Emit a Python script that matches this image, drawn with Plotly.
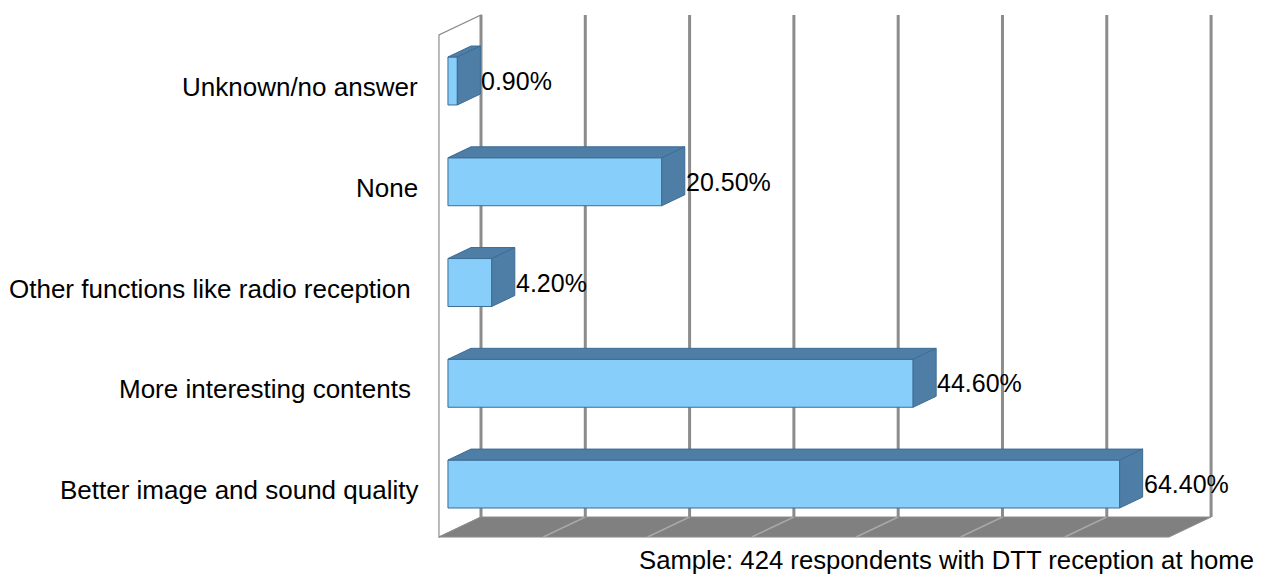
import plotly.graph_objects as go

# ---- data ---------------------------------------------------------------
categories = [
    "Better image and sound quality",
    "More interesting contents\u00a0",
    "Other functions like radio reception\u00a0",
    "None",
    "Unknown/no answer",
]
values = [64.4, 44.6, 4.2, 20.5, 0.9]
value_labels = ["64.40%", "44.60%", "4.20%", "20.50%", "0.90%"]
grid_ticks = [0, 10, 20, 30, 40, 50, 60, 70]
caption = "Sample: 424 respondents with DTT reception at home"

# ---- pseudo-3D projection settings --------------------------------------
DX, DY = -4.03, -0.1985        # shift of a point moved from the back wall to the front edge
D_FRONT, D_BACK = 0.786, 0.238  # depth of a bar's front and back faces
HALF = 0.238                    # half height of a bar
FLOOR_Y = -0.3275               # floor level on the back wall
WALL_TOP = 4.655                # top of the back wall

FRONT = "#87CEFA"
SIDE = "#4E7EA6"
EDGE = "#3D6C94"
FAMILY = "Liberation Sans, Arial, sans-serif"
FONT = dict(family=FAMILY, size=25, color="#000000")
CAT_FONT = dict(family=FAMILY, size=26, color="#000000")


def proj(v, y, d):
    return v + d * DX, y + d * DY


def path_of(points):
    return "M " + " L ".join(f"{x},{y}" for x, y in points) + " Z"


def poly(points, fill, line_color, line_width=1):
    xs = [p[0] for p in points] + [points[0][0]]
    ys = [p[1] for p in points] + [points[0][1]]
    return go.Scatter(x=xs, y=ys, mode="lines", fill="toself", fillcolor=fill,
                      line=dict(color=line_color, width=line_width),
                      hoverinfo="skip", showlegend=False)


x_max = grid_ticks[-1]
shapes = []

# left side wall
shapes.append(dict(type="path", xref="x", yref="y", layer="below",
                   path=path_of([proj(0, FLOOR_Y, 1), proj(0, FLOOR_Y, 0),
                                 proj(0, WALL_TOP, 0), proj(0, WALL_TOP, 1)]),
                   fillcolor="#FFFFFF", line=dict(color="#8C8C8C", width=1.2)))
# floor
shapes.append(dict(type="path", xref="x", yref="y", layer="below",
                   path=path_of([proj(0, FLOOR_Y, 0), proj(x_max, FLOOR_Y, 0),
                                 proj(x_max, FLOOR_Y, 1), proj(0, FLOOR_Y, 1)]),
                   fillcolor="#808080", line=dict(color="#8C8C8C", width=1)))
# floor grid lines running towards the viewer
for t in grid_ticks[1:-1]:
    a, b = proj(t, FLOOR_Y, 0), proj(t, FLOOR_Y, 1)
    shapes.append(dict(type="line", xref="x", yref="y", layer="below",
                       x0=a[0], y0=a[1], x1=b[0], y1=b[1],
                       line=dict(color="#A8A8A8", width=1.5)))
# back-wall grid lines
for t in grid_ticks:
    shapes.append(dict(type="line", xref="x", yref="y", layer="below",
                       x0=t, y0=FLOOR_Y, x1=t, y1=WALL_TOP,
                       line=dict(color="#8C8C8C", width=3)))

fig = go.Figure()

# front faces of the bars
fig.add_trace(go.Bar(
    x=values, y=list(range(len(values))), base=D_FRONT * DX, orientation="h",
    width=2 * HALF, marker=dict(color=FRONT, line=dict(color=EDGE, width=1)),
    hoverinfo="skip", showlegend=False,
))

# top and side faces of every bar
for i, v in enumerate(values):
    y0 = i - D_FRONT * DY  # bar centre on the back wall
    top = [proj(0, y0 + HALF, D_FRONT), proj(v, y0 + HALF, D_FRONT),
           proj(v, y0 + HALF, D_BACK), proj(0, y0 + HALF, D_BACK)]
    side = [proj(v, y0 - HALF, D_FRONT), proj(v, y0 + HALF, D_FRONT),
            proj(v, y0 + HALF, D_BACK), proj(v, y0 - HALF, D_BACK)]
    fig.add_trace(poly(top, SIDE, EDGE))
    fig.add_trace(poly(side, SIDE, EDGE))

annotations = []
# value labels to the right of each bar
for i, (v, lab) in enumerate(zip(values, value_labels)):
    annotations.append(dict(x=proj(v, 0, D_BACK)[0], y=i, xref="x", yref="y",
                            text=lab, showarrow=False, xanchor="left", yanchor="middle",
                            font=FONT, borderpad=0))
# category labels
for i, c in enumerate(categories):
    annotations.append(dict(x=-0.019, y=i, xref="paper", yref="y", text=c,
                            showarrow=False, xanchor="right", yanchor="middle",
                            yshift=-6, font=CAT_FONT))
# sample note
annotations.append(dict(x=1.0315, y=-0.026, xref="paper", yref="paper", text=caption,
                        showarrow=False, xanchor="right", yanchor="middle",
                        font=dict(family=FAMILY, size=25.7, color="#000000")))

fig.update_layout(
    width=1271, height=576,
    margin=dict(l=435, r=40, t=5, b=30),
    paper_bgcolor="#FFFFFF", plot_bgcolor="#FFFFFF",
    xaxis=dict(range=[-4.41, 71.91], visible=False, fixedrange=True),
    yaxis=dict(range=[-0.615, 4.754], visible=False, fixedrange=True),
    shapes=shapes,
    annotations=annotations,
    barmode="overlay",
)

fig.write_html("out.html")
